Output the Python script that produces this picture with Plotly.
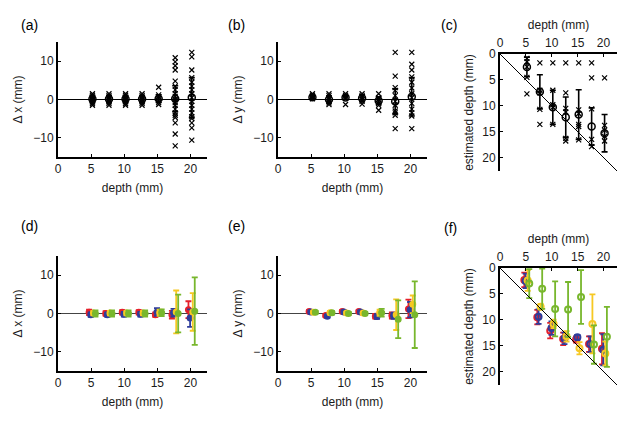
import plotly.graph_objects as go

W, H = 625, 421

depths = [5.2, 7.7, 10.2, 12.7, 15.2, 17.7, 20.2]

# (a) delta x: individual trials, mean and sd per depth
dx_trials = [
    [1.5, 1.1, 0.7, 0.3, 0.0, -0.3, -0.7, -1.1, -1.5],
    [1.5, 1.0, 0.6, 0.2, -0.2, -0.6, -1.0, -1.5],
    [1.5, 1.1, 0.6, 0.2, -0.2, -0.6, -1.1, -1.5],
    [1.5, 1.0, 0.6, 0.2, -0.2, -0.6, -1.0, -1.5],
    [3.2, 1.2, 0.7, 0.2, -0.3, -0.8, -1.3],
    [10.9, 9.8, 8.8, 7.7, 4.8, 3.5, 2.5, 1.5, 0.8, 0.0, -0.8, -1.5, -2.5, -3.5, -4.1, -4.7, -6.1, -9.0, -12.1],
    [12.3, 11.1, 7.7, 5.7, 4.5, 3.5, 2.5, 1.5, 0.5, -0.5, -1.5, -2.5, -3.5, -4.5, -5.0, -6.1, -7.4, -10.6, -15.1],
]
dx_mean = [0.1, 0.1, 0.1, 0.1, 0.2, 0.2, 0.5]
dx_sd = [0.9, 0.9, 0.9, 0.9, 1.0, 3.4, 5.2]

# (b) delta y
dy_trials = [
    [1.5, 1.1, 0.8, 0.5, 0.2],
    [1.5, 1.0, 0.5, 0.0, -0.5, -0.9, -1.3],
    [1.5, 1.0, 0.6, 0.3, -1.3],
    [1.5, 1.0, 0.5, 0.0, -0.5, -1.2],
    [1.5, 0.5, 0.0, -0.5, -1.0, -1.5, -2.8],
    [12.3, 6.1, 3.1, 2.4, 1.0, -0.5, -1.5, -3.0, -3.5, -4.1, -7.6, -15.1],
    [12.3, 9.2, 7.7, 5.9, 4.5, 3.0, 1.5, 0.5, -1.0, -2.5, -3.5, -4.3, -7.6, -15.1],
]
dy_mean = [0.6, 0.0, 0.5, 0.3, -0.3, -0.5, 0.7]
dy_sd = [0.4, 0.9, 0.5, 0.9, 1.0, 3.3, 5.0]

# (c) estimated depth
ed_trials = [
    [0.85, 1.5, 2.5, 4.5, 7.7],
    [1.7, 7.0, 7.5, 10.7, 13.6],
    [1.7, 7.0, 9.8, 10.3, 13.6],
    [1.7, 7.5, 10.5, 11.2, 16.3, 16.8],
    [1.7, 10.8, 11.5, 13.6, 14.0, 16.6],
    [1.7, 4.6, 10.6, 16.5, 17.9],
    [4.6, 13.8, 14.7, 15.9, 16.8],
]
ed_mean = [2.5, 7.3, 10.3, 12.2, 11.7, 14.0, 15.3]
ed_sd = [1.9, 3.3, 3.3, 3.9, 4.8, 3.6, 3.6]

# (d)-(f) four conditions: red, blue, yellow, green
series_colors = ["#e5202b", "#2e3d9c", "#f6c823", "#78b72d"]
series_shift = [-0.5, -0.25, 0.15, 0.45]

dx_means = [
    [0.3, 0.0, 0.3, 0.3, -0.3, -0.3, 1.0],
    [-0.3, -0.3, -0.2, -0.2, 0.4, 0.2, -1.2],
    [0.1, 0.1, 0.1, 0.1, 0.2, 0.4, 0.4],
    [0.0, 0.0, 0.0, 0.0, 0.2, 0.0, 0.6],
]
dx_errs = [
    [0.7, 0.6, 0.6, 0.6, 0.6, 1.0, 2.2],
    [0.6, 0.6, 0.6, 0.6, 1.0, 1.0, 2.3],
    [0.6, 0.6, 0.6, 0.6, 0.8, 5.6, 4.9],
    [0.8, 0.8, 0.8, 0.8, 0.9, 4.9, 8.8],
]
dy_means = [
    [0.5, -0.5, 0.5, 0.5, -0.7, -0.5, 1.2],
    [0.4, -0.7, 0.4, 0.4, -0.8, -0.6, 1.0],
    [0.3, 0.2, 0.1, 0.1, 0.2, -0.3, 2.4],
    [0.3, 0.2, 0.0, 0.0, 0.2, -1.5, -0.3],
]
dy_errs = [
    [0.4, 0.4, 0.4, 0.4, 0.6, 0.8, 2.4],
    [0.4, 0.4, 0.4, 0.4, 0.6, 0.8, 2.0],
    [0.4, 0.4, 0.4, 0.4, 0.8, 4.0, 2.3],
    [0.4, 0.4, 0.4, 0.4, 1.0, 4.9, 8.7],
]
est_means = [
    [2.3, 9.5, 12.1, 13.7, 13.8, 14.7, 15.6],
    [2.5, 9.4, 11.6, 13.6, 13.4, 14.7, 15.8],
    [2.4, 7.5, 10.8, 13.2, 15.5, 10.8, 16.5],
    [3.0, 4.0, 7.9, 8.0, 5.6, 14.8, 13.3],
]
est_errs = [
    [1.4, 1.4, 1.5, 1.2, 0.6, 1.5, 3.0],
    [1.4, 1.4, 1.3, 1.1, 0.5, 1.5, 3.0],
    [2.0, 0.5, 0.8, 1.0, 1.2, 5.7, 2.3],
    [2.8, 3.9, 5.3, 5.3, 5.2, 3.7, 5.8],
]

ticks_delta = [-10, 0, 10]
ticks_depth = [0, 5, 10, 15, 20]
depth_max = 22.6
identity = [0, depth_max]

FONT = "Liberation Sans"


def hdom(x0, x1):
    return [x0 / W, x1 / W]


def vdom(y0, y1):
    return [1 - y1 / H, 1 - y0 / H]


fig = go.Figure()

# pixel boxes of the six panels: (x0, x1, y0, y1)
boxes = {
    1: (58, 207, 42, 157),
    2: (278, 427, 42, 157),
    3: (500, 617, 54, 171),
    4: (58, 207, 256, 371),
    5: (278, 427, 256, 371),
    6: (500, 617, 268, 385),
}


def ax_names(k):
    return ("x" if k == 1 else f"x{k}"), ("y" if k == 1 else f"y{k}")


def add_black_panel(k, trials, mean, sd):
    xa, ya = ax_names(k)
    xs, ys = [], []
    for d, pts in zip(depths, trials):
        xs += [d] * len(pts)
        ys += pts
    fig.add_trace(go.Scatter(
        x=xs, y=ys, mode="markers", xaxis=xa, yaxis=ya,
        marker=dict(symbol="x-thin-open", size=5, color="black",
                    line=dict(color="black", width=1.2)),
        cliponaxis=False, showlegend=False, hoverinfo="skip"))
    fig.add_trace(go.Scatter(
        x=depths, y=mean, mode="markers", xaxis=xa, yaxis=ya,
        marker=dict(symbol="circle-open", size=7, color="black", line=dict(width=1.5)),
        error_y=dict(type="data", array=sd, color="black", thickness=1.6, width=3),
        showlegend=False))


def add_color_panel(k, means, errs, symbol, size):
    xa, ya = ax_names(k)
    for col, sh, m, e in zip(series_colors, series_shift, means, errs):
        fig.add_trace(go.Scatter(
            x=[d + sh for d in depths], y=m, mode="markers", xaxis=xa, yaxis=ya,
            marker=dict(symbol=symbol, size=size, color=col, line=dict(color=col, width=2)),
            error_y=dict(type="data", array=e, color=col, thickness=1.8, width=3),
            showlegend=False))


add_black_panel(1, dx_trials, dx_mean, dx_sd)
add_black_panel(2, dy_trials, dy_mean, dy_sd)
add_black_panel(3, ed_trials, ed_mean, ed_sd)
add_color_panel(4, dx_means, dx_errs, "circle", 5)
add_color_panel(5, dy_means, dy_errs, "circle", 5)
add_color_panel(6, est_means, est_errs, "circle-open", 6)

for k in (3, 6):
    xa, ya = ax_names(k)
    fig.add_trace(go.Scatter(x=identity, y=identity, mode="lines", xaxis=xa, yaxis=ya,
                             line=dict(color="black", width=1), showlegend=False))

tickfont = dict(family=FONT, size=12, color="#1a1a1a")
titlefont = dict(family=FONT, size=12, color="#1a1a1a")

layout = {}
for k, (x0, x1, y0, y1) in boxes.items():
    sfx = "" if k == 1 else str(k)
    xa, ya = ax_names(k)
    common = dict(showline=True, linecolor="black", linewidth=2, ticks="inside",
                  ticklen=3, tickcolor="black", showgrid=False, tickfont=tickfont,
                  automargin=False)
    if k in (3, 6):
        layout["xaxis" + sfx] = dict(domain=hdom(x0, x1), anchor=ya, side="top",
                                     range=[0, depth_max], tickvals=ticks_depth,
                                     zeroline=False,
                                     title=dict(text="depth (mm)", font=titlefont, standoff=4),
                                     **common)
        layout["yaxis" + sfx] = dict(domain=vdom(y0, y1), anchor=xa,
                                     range=[depth_max, 0], tickvals=ticks_depth,
                                     zeroline=False,
                                     title=dict(text="estimated depth (mm)", font=titlefont, standoff=6),
                                     **common)
    else:
        zl = "black" if k in (1, 2) else "#444444"
        layout["xaxis" + sfx] = dict(domain=hdom(x0, x1), anchor=ya,
                                     range=[0, 22.5], tickvals=ticks_depth,
                                     zeroline=False,
                                     title=dict(text="depth (mm)", font=titlefont, standoff=8),
                                     **common)
        ytitle = "Δ x (mm)" if k in (1, 4) else "Δ y (mm)"
        layout["yaxis" + sfx] = dict(domain=vdom(y0, y1), anchor=xa,
                                     range=[-15, 15], tickvals=ticks_delta,
                                     zeroline=True, zerolinecolor=zl, zerolinewidth=1,
                                     title=dict(text=ytitle, font=titlefont, standoff=8),
                                     **common)

panel_labels = ["(a)", "(b)", "(c)", "(d)", "(e)", "(f)"]
label_pos = [(19, 15), (236, 15), (459, 15), (19, 226), (236, 226), (459, 228)]
annotations = [
    dict(text=t, x=px / W, y=1 - py / H, xref="paper", yref="paper",
         showarrow=False, font=dict(family=FONT, size=14, color="black"))
    for t, (px, py) in zip(panel_labels, label_pos)
]

fig.update_layout(
    width=W, height=H,
    margin=dict(l=0, r=0, t=0, b=0),
    paper_bgcolor="white", plot_bgcolor="white",
    showlegend=False,
    annotations=annotations,
    **layout,
)

# the page body has a default 8px margin; drop it so the figure sits at the window origin
fig.write_html("out.html", config={"displayModeBar": False},
               post_script="document.body.style.margin='0';")
